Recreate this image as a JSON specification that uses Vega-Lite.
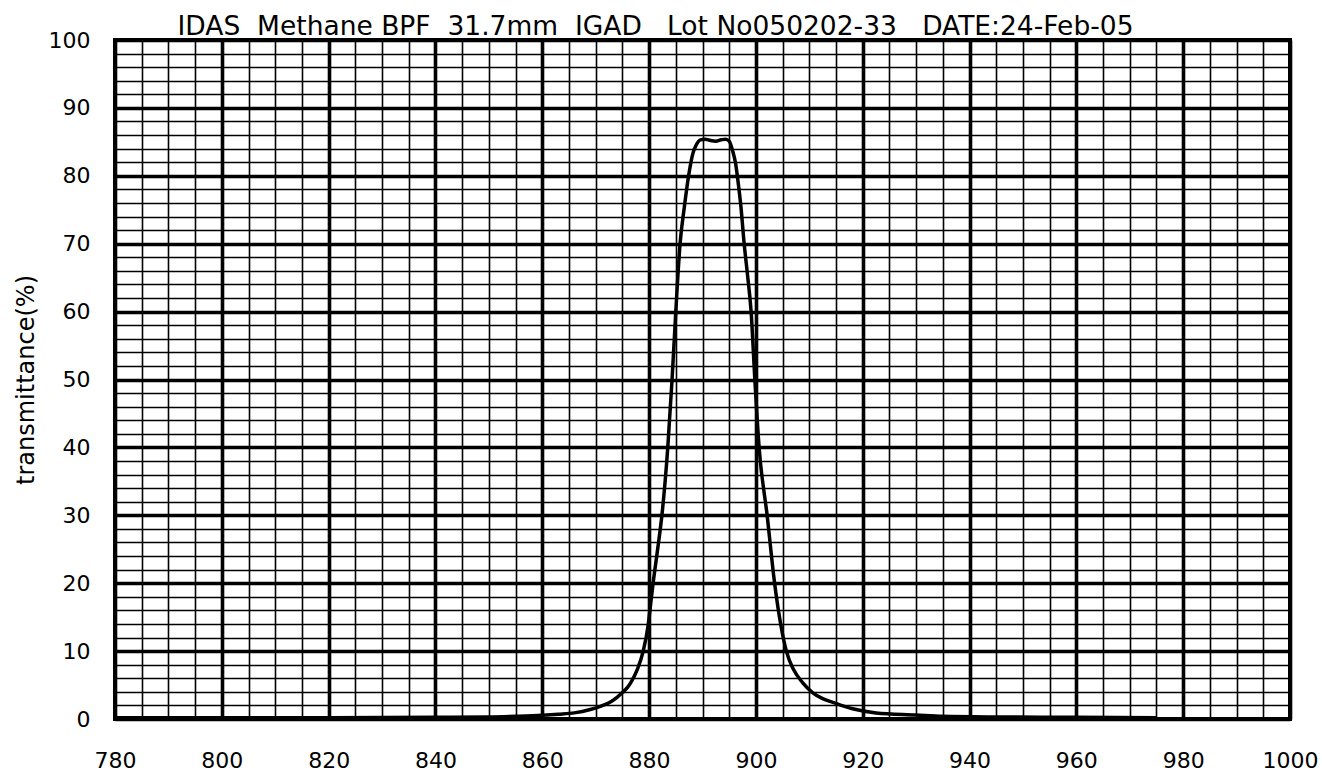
{
  "$schema": "https://vega.github.io/schema/vega-lite/v6.json",
  "width": 1175,
  "height": 679,
  "autosize": {"type": "none"},
  "padding": {"left": 115, "top": 40, "right": 32, "bottom": 52},
  "background": "white",
  "title": {
    "text": "IDAS\u00a0\u00a0Methane BPF\u00a0\u00a031.7mm\u00a0\u00a0IGAD\u00a0\u00a0\u00a0Lot No050202-33\u00a0\u00a0\u00a0DATE:24-Feb-05",
    "font": "DejaVu Sans",
    "fontSize": 26.5,
    "fontWeight": "normal",
    "color": "black",
    "anchor": "middle",
    "dx": -47,
    "dy": 19,
    "offset": 8
  },
  "config": {
    "view": {"stroke": "black", "strokeWidth": 4},
    "axis": {
      "labelFont": "DejaVu Sans",
      "labelFontSize": 22,
      "labelColor": "black",
      "titleFont": "DejaVu Sans",
      "titleFontSize": 24,
      "titleFontWeight": "normal",
      "titleColor": "black",
      "domain": false,
      "ticks": false
    }
  },
  "data": {
    "values": [
      {"nm": 780, "t": 0.2},
      {"nm": 800, "t": 0.2},
      {"nm": 820, "t": 0.2},
      {"nm": 840, "t": 0.25},
      {"nm": 850, "t": 0.3},
      {"nm": 855, "t": 0.4},
      {"nm": 860, "t": 0.55},
      {"nm": 863, "t": 0.7},
      {"nm": 866, "t": 0.9},
      {"nm": 869, "t": 1.4},
      {"nm": 871, "t": 1.9},
      {"nm": 872.5, "t": 2.4},
      {"nm": 874, "t": 3.2},
      {"nm": 875, "t": 3.9},
      {"nm": 876, "t": 4.7},
      {"nm": 876.6, "t": 5.4},
      {"nm": 877.8, "t": 7.3},
      {"nm": 878.9, "t": 10},
      {"nm": 879.8, "t": 13.7},
      {"nm": 880.3, "t": 17},
      {"nm": 880.75, "t": 20},
      {"nm": 881.6, "t": 25},
      {"nm": 882.4, "t": 30},
      {"nm": 883.5, "t": 40},
      {"nm": 884.3, "t": 50},
      {"nm": 885.0, "t": 60},
      {"nm": 885.8, "t": 70},
      {"nm": 886.6, "t": 75.4},
      {"nm": 887.4, "t": 80},
      {"nm": 888.2, "t": 83.3},
      {"nm": 888.8, "t": 84.5},
      {"nm": 889.6, "t": 85.3},
      {"nm": 890.5, "t": 85.4},
      {"nm": 891.5, "t": 85.2},
      {"nm": 892.5, "t": 85.1},
      {"nm": 893.5, "t": 85.3},
      {"nm": 894.3, "t": 85.4},
      {"nm": 895.0, "t": 85.1},
      {"nm": 895.6, "t": 83.8},
      {"nm": 896.2, "t": 81.8},
      {"nm": 896.6, "t": 79.5},
      {"nm": 897.2, "t": 75.4},
      {"nm": 897.8, "t": 70},
      {"nm": 898.4, "t": 65.6},
      {"nm": 899.1, "t": 60},
      {"nm": 899.8, "t": 50},
      {"nm": 900.6, "t": 40},
      {"nm": 902.1, "t": 30},
      {"nm": 903.5, "t": 20},
      {"nm": 904.7, "t": 13.7},
      {"nm": 905.7, "t": 10},
      {"nm": 907.0, "t": 7.35},
      {"nm": 908.7, "t": 5.4},
      {"nm": 910.6, "t": 3.9},
      {"nm": 912.5, "t": 3.0},
      {"nm": 914.4, "t": 2.45},
      {"nm": 918.1, "t": 1.5},
      {"nm": 922.5, "t": 0.9},
      {"nm": 930, "t": 0.6},
      {"nm": 935, "t": 0.4},
      {"nm": 945, "t": 0.3},
      {"nm": 960, "t": 0.25},
      {"nm": 975, "t": 0.2}
    ]
  },
  "mark": {"type": "line", "color": "black", "strokeWidth": 3.5, "interpolate": "monotone", "clip": true},
  "encoding": {
    "x": {
      "field": "nm",
      "type": "quantitative",
      "scale": {"domain": [780, 1000], "nice": false, "zero": false},
      "axis": {
        "title": null,
        "format": "d",
        "values": [780,785,790,795,800,805,810,815,820,825,830,835,840,845,850,855,860,865,870,875,880,885,890,895,900,905,910,915,920,925,930,935,940,945,950,955,960,965,970,975,980,985,990,995,1000],
        "labelExpr": "datum.value % 20 === 0 ? datum.label : ''",
        "labelPadding": 31,
        "labelDx": -7,
        "labelFlush": false,
        "labelOverlap": false,
        "grid": true,
        "gridColor": "black",
        "gridOpacity": 1,
        "gridWidth": {"condition": {"test": "datum.value % 20 === 0", "value": 3.6}, "value": 1.6}
      }
    },
    "y": {
      "field": "t",
      "type": "quantitative",
      "scale": {"domain": [0, 100], "nice": false},
      "axis": {
        "title": "transmittance(%)",
        "titlePadding": 10,
        "values": [0,2,4,6,8,10,12,14,16,18,20,22,24,26,28,30,32,34,36,38,40,42,44,46,48,50,52,54,56,58,60,62,64,66,68,70,72,74,76,78,80,82,84,86,88,90,92,94,96,98,100],
        "labelExpr": "datum.value % 10 === 0 ? datum.label : ''",
        "labelPadding": 25,
        "labelFlush": false,
        "labelOverlap": false,
        "grid": true,
        "gridColor": "black",
        "gridOpacity": 1,
        "gridWidth": {"condition": {"test": "datum.value % 10 === 0", "value": 3.6}, "value": 1.6}
      }
    }
  }
}
